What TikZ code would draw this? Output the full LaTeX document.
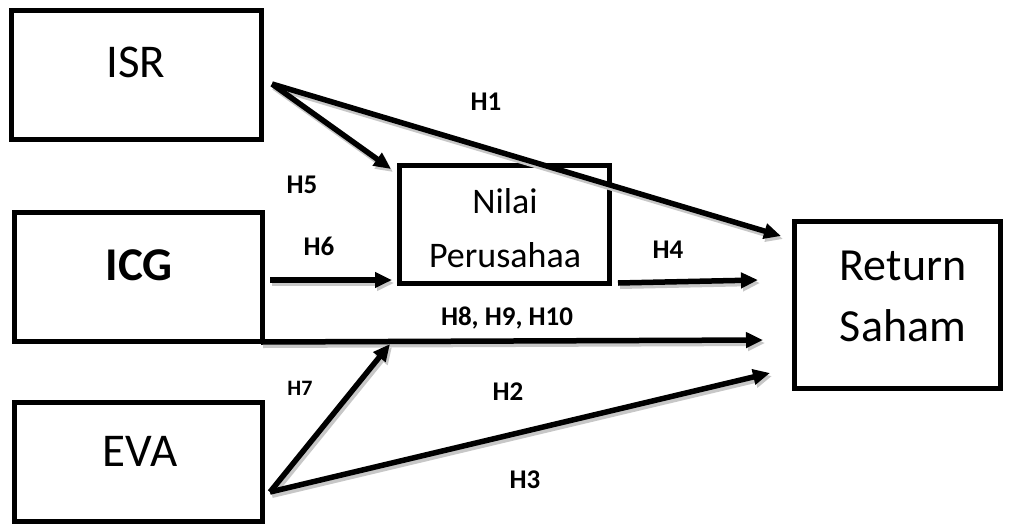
\documentclass[tikz,border=0pt]{standalone}
\usepackage{fontspec}
\setmainfont{Carlito}
\usetikzlibrary{arrows.meta}
\begin{document}
\begin{tikzpicture}[x=1pt,y=-1pt,
  box/.style={draw,line width=5pt,rectangle,inner sep=0pt},
  big/.style={font=\fontsize{47}{50}\selectfont,anchor=base},
  mid/.style={font=\fontsize{36}{40}\selectfont,anchor=base},
  ret/.style={font=\fontsize{46}{50}\selectfont,anchor=base},
  hlab/.style={font=\bfseries\fontsize{27}{30}\selectfont,anchor=base},
  shad/.style={preaction={draw,black!22,line width=6pt,transform canvas={xshift=2pt,yshift=-3pt}}},
  conn/.style={line width=5.5pt,-{Triangle[length=17pt,width=15pt]},shad}]
\useasboundingbox (0,0) rectangle (1011,525);
% boxes
\node[box,minimum width=250pt,minimum height=129pt] (isr) at (136,75) {};
\node[box,minimum width=248pt,minimum height=129pt] (icg) at (138,277) {};
\node[box,minimum width=248pt,minimum height=119pt] (eva) at (138,462) {};
\node[box,minimum width=210pt,minimum height=118pt] (nilai) at (504,224) {};
\node[box,minimum width=206pt,minimum height=167pt] (ret) at (897,304.5) {};
% texts
\node[big] (tisr) at (136,77) {ISR};
\node[big,font=\bfseries\fontsize{47}{50}\selectfont] (ticg) at (139,280) {ICG};
\node[big] (teva) at (140,466) {EVA};
\node[mid] (tn1) at (505,213) {Nilai};
\node[mid] (tn2) at (505,267) {Perusahaa};
\node[ret] (tr1) at (903,280) {Return};
\node[ret] (tr2) at (903,341) {Saham};
% connector points
\coordinate (isrS) at (272,84);
\coordinate (icgS) at (270,280);
\coordinate (icgC) at (261,342);
\coordinate (evaS) at (270,492);
\coordinate (nilS) at (618,283);
\coordinate (nilT) at (391,169);
\coordinate (nilL) at (392,280);
\coordinate (nilB) at (390,344);
\coordinate (retA) at (781,236);
\coordinate (retB) at (758,280);
\coordinate (retC) at (763,340);
\coordinate (retD) at (770,373);
% connectors
\draw[conn] (isrS) -- (retA);
\draw[conn] (isrS) -- (nilT);
\draw[conn] (icgS) -- (nilL);
\draw[conn] (nilS) -- (retB);
\draw[conn] (icgC) -- (retC);
\draw[conn] (evaS) -- (nilB);
\draw[conn] (evaS) -- (retD);
% labels
\node[hlab] (h1) at (486,110) {H1};
\node[hlab] (h5) at (302,193) {H5};
\node[hlab] (h6) at (319,255) {H6};
\node[hlab] (h4) at (668,258) {H4};
\node[hlab] (h8) at (507,325) {H8, H9, H10};
\node[hlab,font=\bfseries\fontsize{22}{24}\selectfont] (h7) at (300,395) {H7};
\node[hlab] (h2) at (508,400) {H2};
\node[hlab] (h3) at (525,488) {H3};
\end{tikzpicture}
\end{document}
